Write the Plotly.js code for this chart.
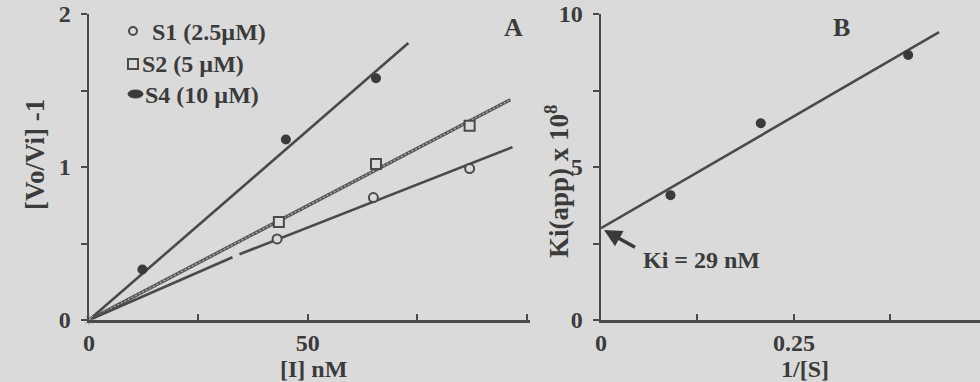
<!DOCTYPE html>
<html>
<head>
<meta charset="utf-8">
<script src="https://cdn.plot.ly/plotly-3.0.1.min.js"></script>
<style>html,body{margin:0;padding:0;background:#dadada;}#chart{width:980px;height:382px;}</style>
</head>
<body>
<div id="chart"></div>
<script>
// ---- Panel A data: [Vo/Vi]-1 vs [I] nM ----
const s1X = [43, 65, 87];
const s1Y = [0.53, 0.80, 0.99];
const s2X = [43.4, 65.6, 87];
const s2Y = [0.64, 1.02, 1.27];
const s4X = [12.2, 45, 65.6];
const s4Y = [0.33, 1.18, 1.58];
// fitted lines (S1 line has a small break in the original)
const s1FitX = [0, 32.8, null, 34.4, 96.8];
const s1FitY = [0, 0.41, null, 0.43, 1.13];
const s2FitX = [0, 96.3];
const s2FitY = [0, 1.44];
const s4FitX = [0, 73];
const s4FitY = [0, 1.81];
const originX = [0];
const originY = [0];

// ---- Panel B data: Ki(app) x 10^8 vs 1/[S] ----
const bX = [0.09, 0.207, 0.398];
const bY = [4.08, 6.43, 8.66];
const bFitX = [0, 0.438];
const bFitY = [3.0, 9.41];

// ---- tick labels ----
const axTickVals = [0, 25, 50, 75, 100];
const axTickText = ['0', '', '50', '', ''];
const ayTickVals = [0, 0.5, 1, 1.5, 2];
const ayTickText = ['0', '', '1', '', '2'];
const bxTickVals = [0, 0.125, 0.25, 0.375];
const bxTickText = ['0', '', '0.25', ''];
const byTickVals = [0, 2.5, 5, 7.5, 10];
const byTickText = ['0', '', '5', '', '10'];

const legendLabels = ['S1 (2.5µM)', 'S2 (5 µM)', 'S4 (10 µM)'];

const INK = '#3b3b3b';
const LINE = '#4a4a4a';
const FONT = 'Liberation Serif, Times New Roman, serif';
const W = 980, H = 382;
const px = v => v / W;
const py = v => 1 - v / H;

const traces = [
  {x: s4FitX, y: s4FitY, mode: 'lines', line: {color: LINE, width: 2.6}, xaxis: 'x', yaxis: 'y'},
  {x: s2FitX, y: s2FitY, mode: 'lines', line: {color: '#555', width: 3.4}, xaxis: 'x', yaxis: 'y'},
  {x: s2FitX, y: s2FitY, mode: 'lines', line: {color: '#b4b4b4', width: 1.2, dash: '2px,2px'}, xaxis: 'x', yaxis: 'y'},
  {x: s1FitX, y: s1FitY, mode: 'lines', line: {color: LINE, width: 2.6}, connectgaps: false, xaxis: 'x', yaxis: 'y'},
  {x: s1X, y: s1Y, mode: 'markers', marker: {symbol: 'circle', size: 9, color: '#dadada', line: {color: LINE, width: 2}}, xaxis: 'x', yaxis: 'y'},
  {x: s2X, y: s2Y, mode: 'markers', marker: {symbol: 'square', size: 10, color: '#dadada', line: {color: LINE, width: 2}}, xaxis: 'x', yaxis: 'y'},
  {x: s4X, y: s4Y, mode: 'markers', marker: {symbol: 'circle', size: 10, color: '#3a3a3a'}, xaxis: 'x', yaxis: 'y'},
  {x: originX, y: originY, mode: 'markers', marker: {symbol: 'asterisk-open', size: 9, color: '#a8a8a8', line: {color: '#a8a8a8', width: 1}}, cliponaxis: false, xaxis: 'x', yaxis: 'y'},
  {x: bFitX, y: bFitY, mode: 'lines', line: {color: LINE, width: 2.6}, xaxis: 'x2', yaxis: 'y2'},
  {x: bX, y: bY, mode: 'markers', marker: {symbol: 'circle', size: 10, color: '#3a3a3a'}, xaxis: 'x2', yaxis: 'y2'}
];

const tickFont = {family: FONT, size: 24, color: INK, weight: 700};
function axisBase(extra) {
  return Object.assign({
    showline: true, linecolor: '#4a4a4a', linewidth: 2.5,
    showgrid: false, zeroline: false, tickmode: 'array',
    tickcolor: '#4a4a4a', tickwidth: 2, ticklen: 6,
    tickfont: tickFont, fixedrange: true
  }, extra);
}
function label(x, y, text, size, extra) {
  return Object.assign({xref: 'paper', yref: 'paper', x: px(x), y: py(y), xanchor: 'center', yanchor: 'middle',
    text: text, showarrow: false, font: {family: FONT, size: size, color: INK, weight: 700}}, extra || {});
}

const yDom = [py(320), py(14)];
const layout = {
  width: W, height: H,
  margin: {l: 0, r: 0, t: 0, b: 0},
  paper_bgcolor: '#dadada', plot_bgcolor: 'rgba(0,0,0,0)',
  showlegend: false,
  xaxis: axisBase({domain: [px(89), px(530)], range: [0, 100.8], tickvals: axTickVals, ticktext: axTickText, ticks: 'inside', anchor: 'y', ticklabelstandoff: 0}),
  yaxis: axisBase({domain: yDom, range: [0, 2], tickvals: ayTickVals, ticktext: ayTickText, ticks: 'outside', anchor: 'x', ticklabelstandoff: 5}),
  xaxis2: axisBase({domain: [px(601), 1], range: [0, 0.491], tickvals: bxTickVals, ticktext: bxTickText, ticks: 'inside', anchor: 'y2', ticklabelstandoff: 0}),
  yaxis2: axisBase({domain: yDom, range: [0, 10], tickvals: byTickVals, ticktext: byTickText, ticks: 'outside', anchor: 'x2', ticklabelstandoff: 5}),
  shapes: [
    {type: 'circle', xref: 'paper', yref: 'paper', x0: px(129), x1: px(137), y0: py(35), y1: py(27), line: {color: LINE, width: 2}, fillcolor: 'rgba(0,0,0,0)'},
    {type: 'rect', xref: 'paper', yref: 'paper', x0: px(128), x1: px(138), y0: py(69), y1: py(59), line: {color: LINE, width: 2}, fillcolor: 'rgba(0,0,0,0)'},
    {type: 'circle', xref: 'paper', yref: 'paper', x0: px(128), x1: px(143), y0: py(98), y1: py(90), line: {color: '#3a3a3a', width: 1}, fillcolor: '#3a3a3a'}
  ],
  annotations: [
    label(150, 32, legendLabels[0], 24, {xanchor: 'left'}),
    label(140, 64, legendLabels[1], 24, {xanchor: 'left'}),
    label(143, 95, legendLabels[2], 24, {xanchor: 'left'}),
    label(35, 155, '[Vo/Vi] -1', 27, {textangle: -90}),
    label(313, 369, '[I] nM', 24),
    label(557, 182, 'Ki(app) x 10<sup>8</sup>', 27, {textangle: -90}),
    label(805, 369, '1/[S]', 24),
    label(513, 28, 'A', 26),
    label(841, 28, 'B', 26),
    label(641, 260, 'Ki = 29 nM', 24, {xanchor: 'left'}),
    {xref: 'paper', yref: 'paper', x: px(604), y: py(230), text: ' ', showarrow: true, arrowhead: 2, arrowsize: 1, arrowwidth: 3.5, arrowcolor: '#3a3a3a', ax: 34, ay: 19, standoff: 0}
  ]
};

Plotly.newPlot('chart', traces, layout, {displayModeBar: false, staticPlot: true});
</script>
</body>
</html>
